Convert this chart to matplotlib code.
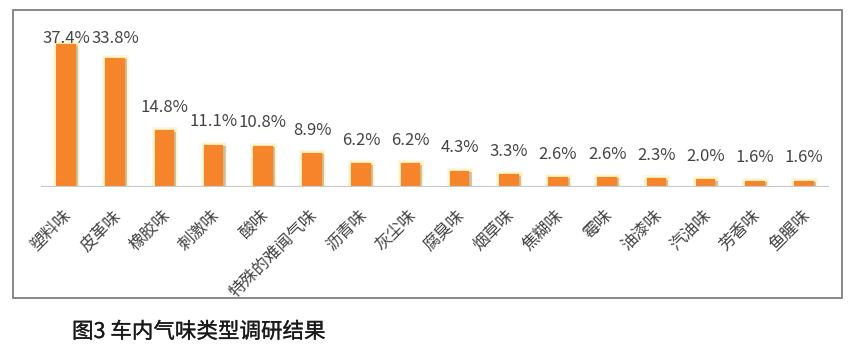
import matplotlib
matplotlib.use("Agg")
import matplotlib.pyplot as plt
import matplotlib.patheffects as pe
import matplotlib.transforms as mtransforms
from matplotlib.patches import Rectangle

plt.rcParams['font.family'] = ['Noto Sans CJK SC', 'DejaVu Sans']

categories = ["塑料味", "皮革味", "橡胶味", "刺激味", "酸味", "特殊的难闻气味", "沥青味", "灰尘味",
              "腐臭味", "烟草味", "焦糊味", "霉味", "油漆味", "汽油味", "芳香味", "鱼腥味"]
values = [37.4, 33.8, 14.8, 11.1, 10.8, 8.9, 6.2, 6.2, 4.3, 3.3, 2.6, 2.6, 2.3, 2.0, 1.6, 1.6]
title = "图3 车内气味类型调研结果"

W, H = 855, 360
fig = plt.figure(figsize=(W / 100, H / 100), dpi=100)
fig.patch.set_facecolor("white")

# outer frame
fig.add_artist(Rectangle((13 / W, 1 - 298 / H), 829 / W, 288 / H, transform=fig.transFigure,
                         fill=False, edgecolor="#7f7f7f", linewidth=1.3))

ax = fig.add_axes([41.4 / W, 1 - 187 / H, 787.2 / W, 152.8 / H])
ax.set_xlim(-0.5, len(values) - 0.5)
ax.set_ylim(0, 40)
for s in ax.spines.values():
    s.set_visible(False)
ax.set_xticks([])
ax.set_yticks([])
ax.patch.set_alpha(0)

x = list(range(len(values)))
bars = ax.bar(x, values, width=0.4, color="#F5842A", zorder=3)
for b in bars:
    b.set_path_effects([
        pe.Stroke(linewidth=5, foreground="#FFEFB8", alpha=0.45),
        pe.Stroke(linewidth=2.5, foreground="#FDE7A0", alpha=0.7),
        pe.SimplePatchShadow(offset=(1.5, -1), shadow_rgbFace="#777777", alpha=0.35),
        pe.Normal(),
    ])

ax.axhline(0, color="#c9c9c9", linewidth=1.6, zorder=4)

for i, v in enumerate(values):
    ax.text(i, min(v + 6.0, 39.0), f"{v:.1f}%", ha="center", va="center",
            fontsize=12, color="#444444", zorder=5)

for i, c in enumerate(categories):
    tr = mtransforms.offset_copy(ax.transData, fig=fig, x=-3, y=-20, units="dots")
    ax.text(i, 0, c, transform=tr, rotation=45, rotation_mode="anchor",
            ha="right", va="top", fontsize=12, color="#444444")

fig.text(72 / W, 1 - 332 / H, title, ha="left", va="center", fontsize=15.5,
         color="#1a1a1a", fontweight="normal",
         path_effects=[pe.withStroke(linewidth=0.2, foreground="#1a1a1a")])

fig.savefig("out.png", dpi=100, facecolor="white")
